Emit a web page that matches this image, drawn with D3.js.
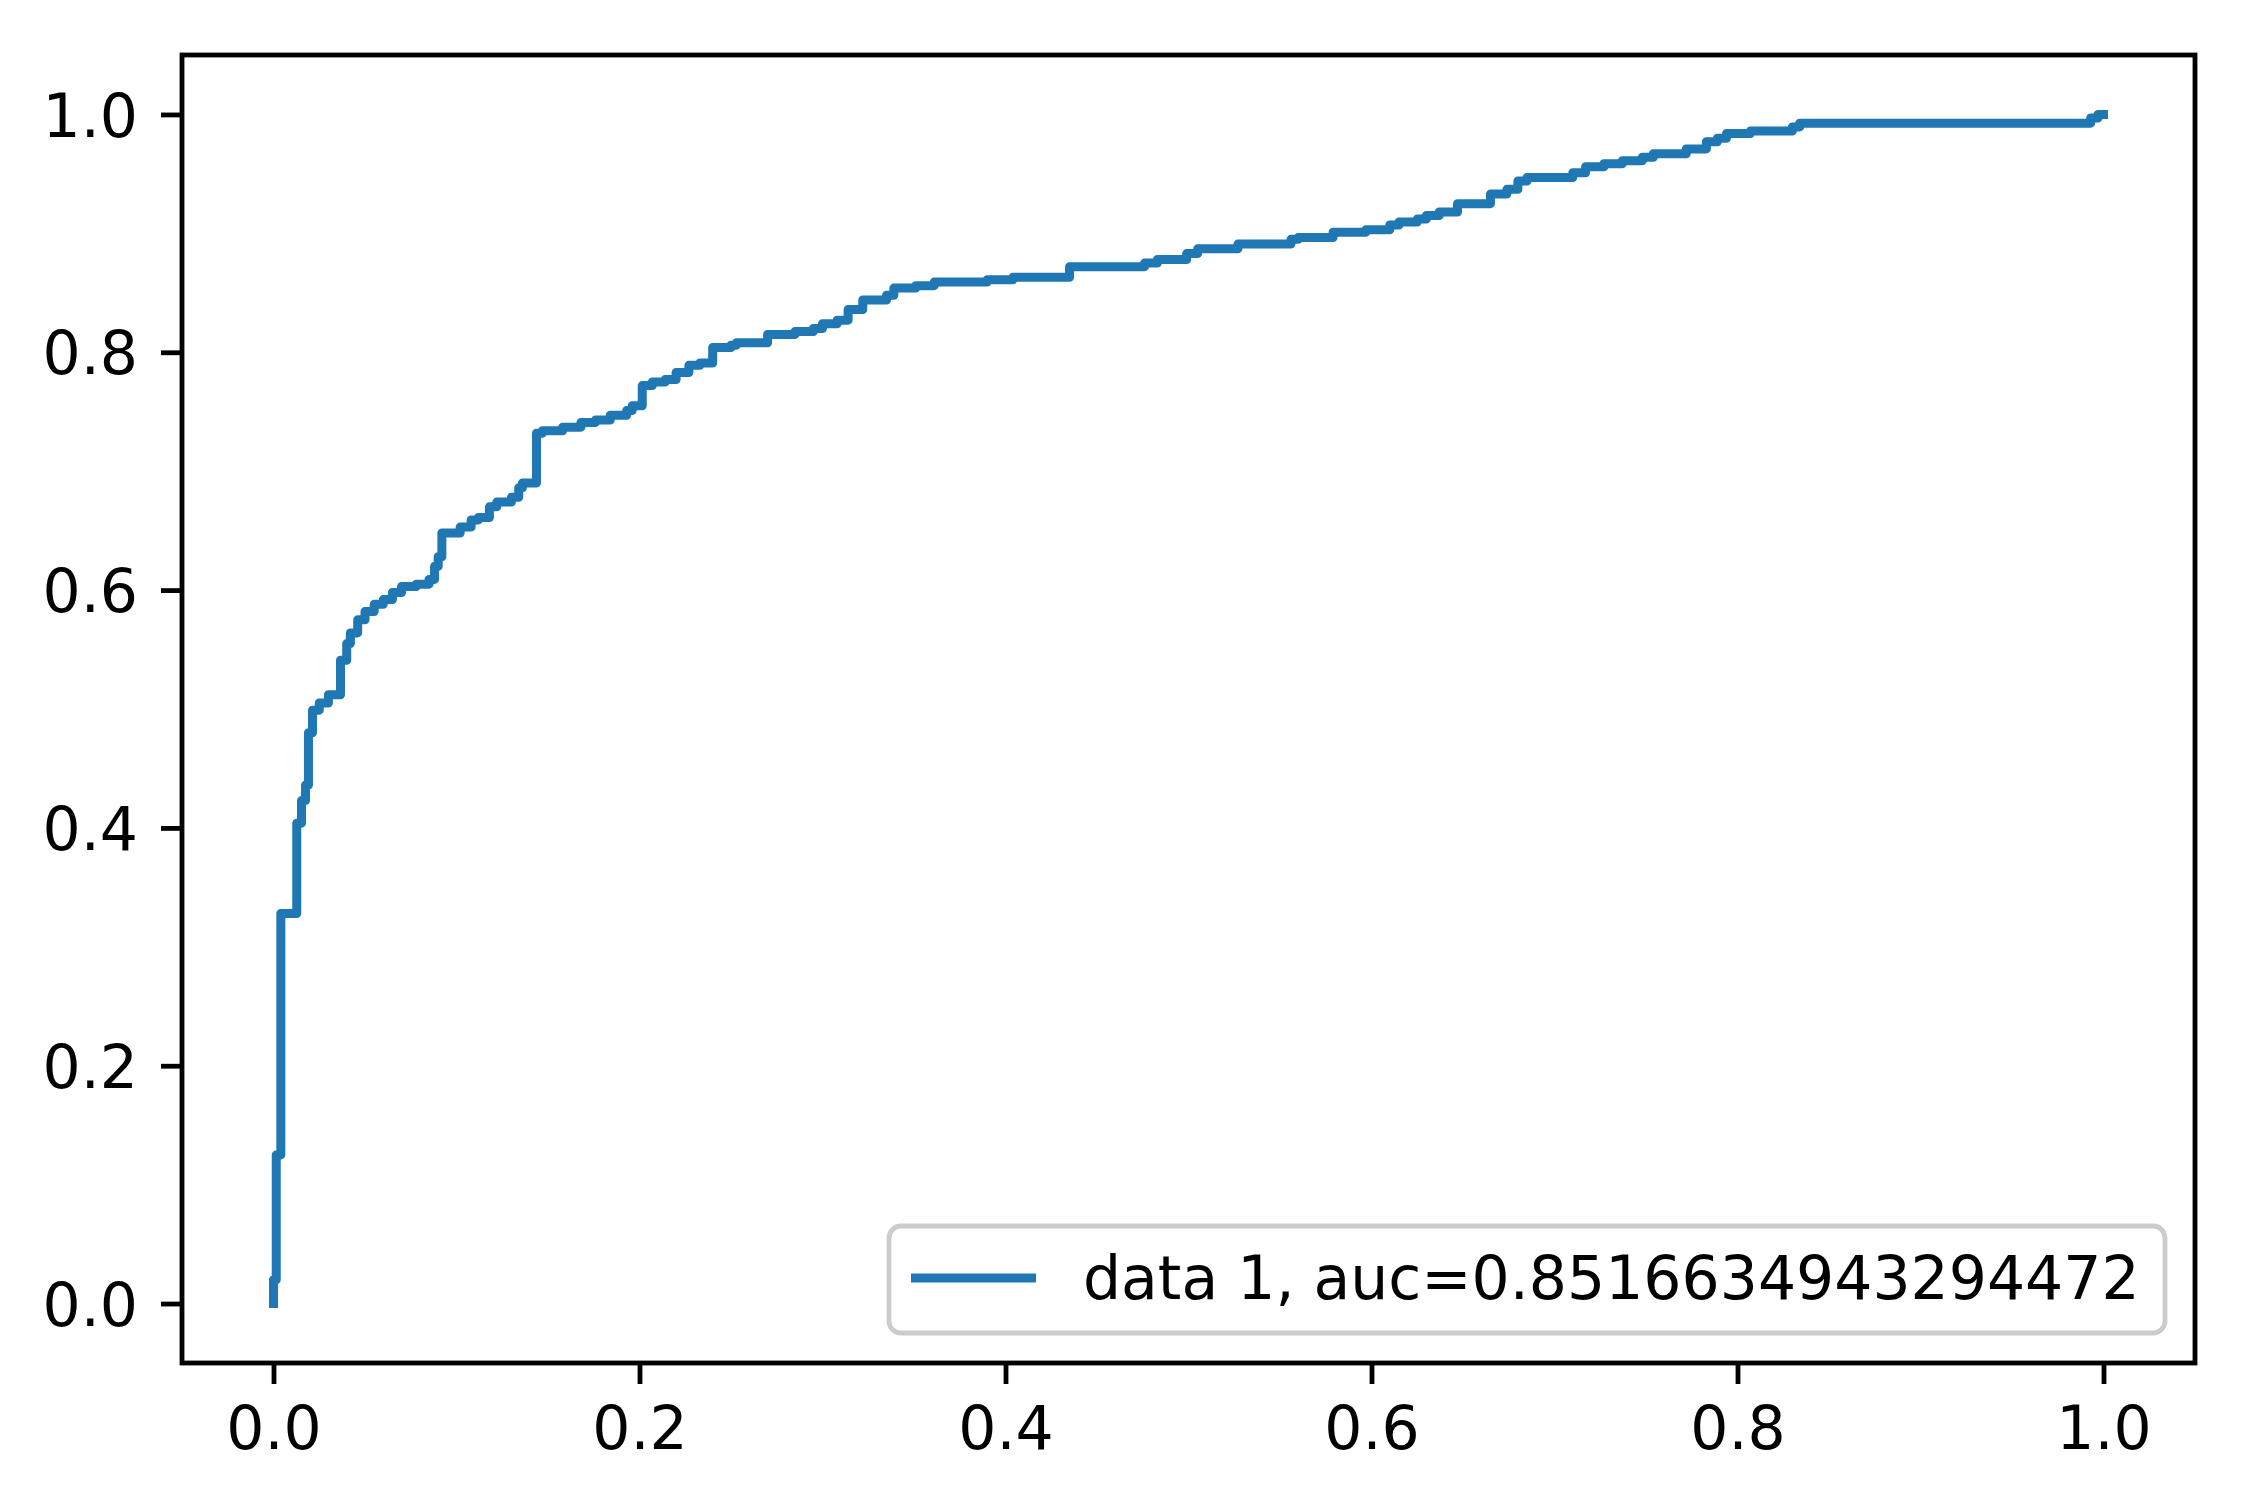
<!DOCTYPE html>
<html>
<head>
<meta charset="utf-8">
<script src="https://cdn.jsdelivr.net/npm/d3@7"></script>
<style>
  html, body { margin: 0; padding: 0; background: #ffffff; }
  svg { display: block; }
  text { font-family: "DejaVu Sans", sans-serif; fill: #000; }
</style>
</head>
<body>
<svg id="chart" width="2243" height="1488"></svg>
<script>
// ROC curve vertices: at each fpr value the tpr jumps to the listed level
const fpr = [0, 0, 0.0015, 0.004, 0.0127, 0.0153, 0.0175, 0.0191, 0.0213, 0.025, 0.030, 0.0366, 0.040, 0.042, 0.046, 0.050, 0.055, 0.060, 0.065, 0.070, 0.078, 0.085, 0.088, 0.090, 0.092, 0.102, 0.108, 0.112, 0.118, 0.122, 0.130, 0.134, 0.136, 0.1437, 0.147, 0.158, 0.168, 0.176, 0.184, 0.193, 0.196, 0.2015, 0.207, 0.214, 0.220, 0.227, 0.233, 0.240, 0.250, 0.253, 0.270, 0.285, 0.295, 0.300, 0.308, 0.314, 0.322, 0.335, 0.339, 0.351, 0.361, 0.390, 0.404, 0.435, 0.476, 0.483, 0.499, 0.505, 0.527, 0.556, 0.560, 0.579, 0.597, 0.610, 0.615, 0.625, 0.630, 0.637, 0.647, 0.665, 0.674, 0.680, 0.685, 0.710, 0.717, 0.727, 0.737, 0.748, 0.754, 0.772, 0.783, 0.789, 0.794, 0.807, 0.830, 0.834, 0.993, 0.997, 1.0];
const tpr = [0, 0.02, 0.125, 0.328, 0.404, 0.423, 0.436, 0.480, 0.499, 0.505, 0.512, 0.541, 0.555, 0.564, 0.575, 0.582, 0.588, 0.592, 0.598, 0.603, 0.605, 0.609, 0.620, 0.628, 0.648, 0.653, 0.659, 0.661, 0.670, 0.674, 0.678, 0.686, 0.690, 0.732, 0.734, 0.737, 0.741, 0.743, 0.747, 0.751, 0.755, 0.772, 0.775, 0.777, 0.783, 0.789, 0.791, 0.804, 0.806, 0.808, 0.815, 0.8175, 0.820, 0.824, 0.827, 0.836, 0.844, 0.848, 0.854, 0.856, 0.859, 0.861, 0.863, 0.872, 0.875, 0.878, 0.883, 0.887, 0.891, 0.895, 0.8965, 0.901, 0.903, 0.907, 0.9095, 0.912, 0.915, 0.918, 0.925, 0.933, 0.937, 0.944, 0.947, 0.951, 0.956, 0.9585, 0.961, 0.964, 0.967, 0.971, 0.977, 0.980, 0.984, 0.986, 0.9895, 0.9927, 0.997, 1.0, 1.0];
const xTicks = [0, 0.2, 0.4, 0.6, 0.8, 1.0];
const yTicks = [0, 0.2, 0.4, 0.6, 0.8, 1.0];
const seriesLabel = "data 1, auc=0.8516634943294472";

const svg = d3.select("#chart");
const L = 182, R = 2195, T = 55, B = 1363;
const fs = 60, tickLen = 21, axisW = 4.8;

const x = d3.scaleLinear().domain([-0.05, 1.05]).range([L, R]);
const y = d3.scaleLinear().domain([-0.05, 1.05]).range([B, T]);

const pts = fpr.map((f, i) => [f, tpr[i]]);
const line = d3.line().x(d => x(d[0])).y(d => y(d[1])).curve(d3.curveStepAfter);

svg.append("path")
  .datum(pts)
  .attr("d", line)
  .attr("fill", "none")
  .attr("stroke", "#1f77b4")
  .attr("stroke-width", 9)
  .attr("stroke-linejoin", "round")
  .attr("stroke-linecap", "square");

// axes
const xAxis = d3.axisBottom(x).tickValues(xTicks).tickFormat(d3.format(".1f")).tickSize(tickLen).tickPadding(20);
const yAxis = d3.axisLeft(y).tickValues(yTicks).tickFormat(d3.format(".1f")).tickSize(tickLen).tickPadding(20);

const gx = svg.append("g").attr("transform", `translate(0,${B})`).call(xAxis);
const gy = svg.append("g").attr("transform", `translate(${L},0)`).call(yAxis);
[gx, gy].forEach(g => {
  g.select(".domain").remove();
  g.selectAll(".tick line").attr("stroke", "#000").attr("stroke-width", axisW);
  g.selectAll(".tick text").attr("font-size", fs).attr("font-family", "DejaVu Sans").attr("fill", "#000");
});
gx.selectAll(".tick text").attr("dy", null).attr("y", tickLen + 20 + 0.75 * fs);
gy.selectAll(".tick text").attr("dy", "0.36em").attr("x", -(tickLen + 23));

// frame
svg.append("rect")
  .attr("x", L).attr("y", T).attr("width", R - L).attr("height", B - T)
  .attr("fill", "none").attr("stroke", "#000").attr("stroke-width", axisW)
  .attr("stroke-linejoin", "miter");

// legend
const lg = svg.append("g");
lg.append("rect")
  .attr("x", 889).attr("y", 1226).attr("width", 1276).attr("height", 107)
  .attr("rx", 12).attr("ry", 12)
  .attr("fill", "#ffffff").attr("fill-opacity", 0.8)
  .attr("stroke", "#cccccc").attr("stroke-width", 4.8);
lg.append("line")
  .attr("x1", 911).attr("x2", 1036).attr("y1", 1278).attr("y2", 1278)
  .attr("stroke", "#1f77b4").attr("stroke-width", 9);
lg.append("text")
  .attr("x", 1083).attr("y", 1299)
  .attr("font-size", fs)
  .text(seriesLabel);
</script>
</body>
</html>
